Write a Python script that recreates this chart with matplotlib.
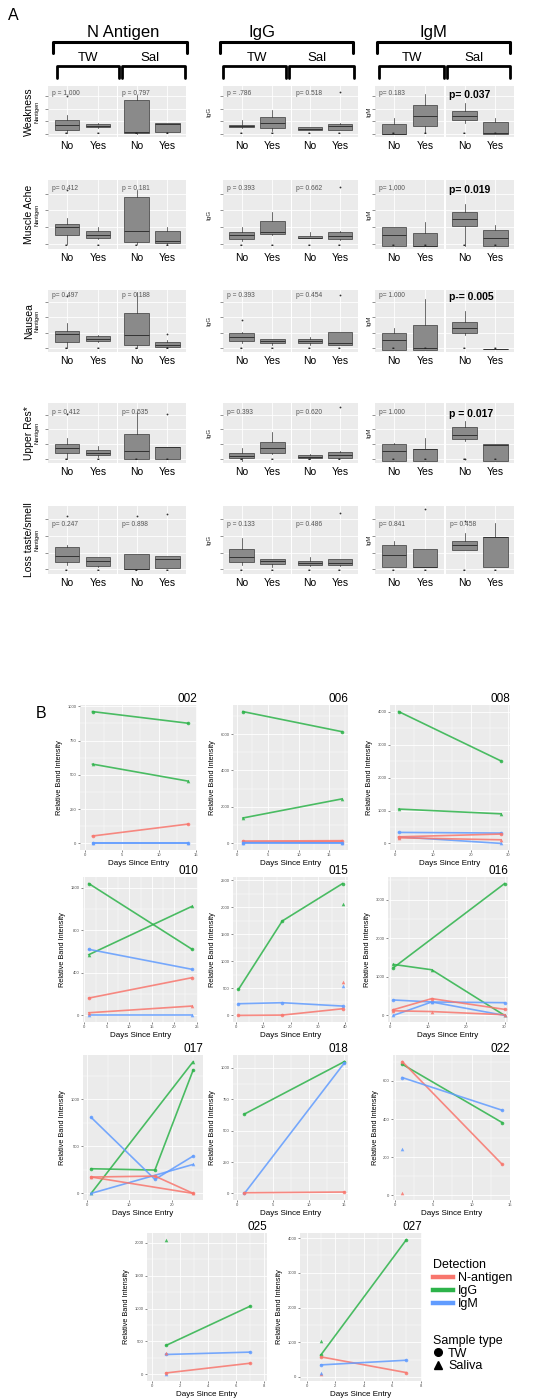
import matplotlib
matplotlib.use("Agg")
import matplotlib.pyplot as plt
from matplotlib.lines import Line2D
from matplotlib.ticker import AutoMinorLocator

plt.rcParams['font.family'] = ['Liberation Sans', 'DejaVu Sans']

W, H = 545, 1399

# ── Panel A data (box stats as fraction of panel height: lo, q1, med, q3, hi) ──
SYMPTOMS = ["Weakness", "Muscle Ache", "Nausea", "Upper Res*", "Loss taste/smell"]
GROUPS = ["No", "Yes"]

# order in each row: TW-No, TW-Yes, Sal-No, Sal-Yes
NANT_BOX = [
    [(0.07, 0.12, 0.23, 0.33, 0.43), (0.16, 0.18, 0.20, 0.24, 0.26), (0.05, 0.07, 0.08, 0.72, 0.82), (0.07, 0.08, 0.25, 0.26, 0.26)],
    [(0.05, 0.19, 0.30, 0.35, 0.44), (0.13, 0.15, 0.19, 0.25, 0.30), (0.05, 0.09, 0.25, 0.75, 0.85), (0.06, 0.075, 0.10, 0.24, 0.30)],
    [(0.04, 0.15, 0.27, 0.32, 0.45), (0.14, 0.16, 0.20, 0.24, 0.26), (0.04, 0.09, 0.26, 0.62, 0.97), (0.05, 0.065, 0.09, 0.15, 0.17)],
    [(0.05, 0.15, 0.24, 0.31, 0.40), (0.09, 0.11, 0.15, 0.20, 0.27), (0.04, 0.04, 0.19, 0.48, 0.86), (0.04, 0.04, 0.25, 0.25, 0.25)],
    [(0.12, 0.16, 0.25, 0.39, 0.41), (0.08, 0.10, 0.17, 0.24, 0.24), (0.05, 0.05, 0.06, 0.28, 0.28), (0.07, 0.07, 0.20, 0.25, 0.25)],
]
NANT_FLY = [
    [[0.80], [], [], []],
    [[0.85], [], [], []],
    [[0.90], [], [], [0.27]],
    [[0.82], [], [], [0.82]],
    [[0.85], [], [0.85], [0.88]],
]
IGG_BOX = [
    [(0.16, 0.18, 0.20, 0.23, 0.32), (0.10, 0.16, 0.26, 0.38, 0.53), (0.13, 0.13, 0.15, 0.18, 0.18), (0.13, 0.13, 0.20, 0.25, 0.26)],
    [(0.10, 0.13, 0.18, 0.23, 0.30), (0.18, 0.20, 0.23, 0.39, 0.53), (0.14, 0.14, 0.15, 0.17, 0.23), (0.11, 0.13, 0.17, 0.23, 0.24)],
    [(0.12, 0.16, 0.23, 0.29, 0.31), (0.10, 0.12, 0.16, 0.19, 0.20), (0.10, 0.12, 0.16, 0.19, 0.23), (0.10, 0.10, 0.12, 0.31, 0.31)],
    [(0.02, 0.06, 0.10, 0.15, 0.24), (0.13, 0.15, 0.24, 0.33, 0.50), (0.05, 0.06, 0.09, 0.12, 0.14), (0.06, 0.07, 0.12, 0.16, 0.18)],
    [(0.12, 0.16, 0.24, 0.35, 0.52), (0.08, 0.13, 0.17, 0.21, 0.21), (0.10, 0.11, 0.15, 0.17, 0.24), (0.10, 0.11, 0.14, 0.20, 0.20)],
]
IGG_FLY = [
    [[], [], [], [0.89]],
    [[], [], [], [0.90]],
    [[0.51], [], [], [0.92]],
    [[], [], [], [0.94]],
    [[], [], [], [0.89]],
]
IGM_BOX = [
    [(0.05, 0.05, 0.05, 0.25, 0.36), (0.07, 0.21, 0.41, 0.62, 0.84), (0.26, 0.32, 0.41, 0.50, 0.66), (0.05, 0.05, 0.07, 0.28, 0.36)],
    [(0.03, 0.03, 0.19, 0.30, 0.31), (0.03, 0.03, 0.03, 0.21, 0.38), (0.03, 0.32, 0.43, 0.53, 0.64), (0.03, 0.03, 0.15, 0.26, 0.33)],
    [(0.02, 0.02, 0.18, 0.29, 0.37), (0.02, 0.02, 0.04, 0.43, 0.86), (0.26, 0.30, 0.37, 0.48, 0.65), (0.03, 0.03, 0.03, 0.03, 0.03)],
    [(0.02, 0.02, 0.19, 0.31, 0.32), (0.02, 0.02, 0.22, 0.22, 0.40), (0.35, 0.38, 0.46, 0.60, 0.70), (0.02, 0.02, 0.29, 0.30, 0.31)],
    [(0.08, 0.08, 0.27, 0.41, 0.47), (0.08, 0.08, 0.08, 0.36, 0.36), (0.34, 0.34, 0.42, 0.47, 0.60), (0.08, 0.08, 0.54, 0.54, 0.75)],
]
IGM_FLY = [
    [[], [], [], []],
    [[], [], [], []],
    [[], [], [], []],
    [[], [], [0.04], []],
    [[], [0.96], [0.77], []],
]

P_NANT = [("p = 1,000", "p = 0.797"), ("p= 0.412", "p = 0.181"), ("p= 0.497", "p = 0.188"),
          ("p = 0.412", "p= 0.535"), ("p= 0.247", "p= 0.898")]
P_IGG = [("p = .786", "p= 0.518"), ("p = 0.393", "p= 0.662"), ("p = 0.393", "p= 0.454"),
         ("p= 0.393", "p= 0.620"), ("p = 0.133", "p= 0.486")]
P_IGM = [("p= 0.183", "p= 0.037"), ("p= 1,000", "p= 0.019"), ("p= 1.000", "p-= 0.005"),
         ("p= 1.000", "p = 0.017"), ("p= 0.841", "p= 0.458")]
P_BOLD = [(False, True), (False, True), (False, True), (False, True), (False, False)]

# ── Panel B data: (detection, sample type, days, relative band intensity) ──
DETECTIONS = ["N-antigen", "IgG", "IgM"]
SAMPLES = ["TW", "Saliva"]

LINES_002 = [("IgG", "TW", [1, 14], [961, 876]), ("IgG", "Saliva", [1, 14], [578, 454]),
             ("N-antigen", "TW", [1, 14], [54, 141]), ("IgM", "TW", [1, 14], [2, 2]),
             ("IgM", "Saliva", [1, 14], [0, 0])]
LINES_006 = [("IgG", "TW", [1, 17], [7230, 6130]), ("IgG", "Saliva", [1, 17], [1395, 2440]),
             ("N-antigen", "TW", [1, 17], [130, 150]), ("N-antigen", "Saliva", [1, 17], [60, 100]),
             ("IgM", "TW", [1, 17], [0, 0]), ("IgM", "Saliva", [1, 17], [40, 30])]
LINES_008 = [("IgG", "TW", [1, 28], [4010, 2510]), ("IgG", "Saliva", [1, 28], [1045, 900]),
             ("IgM", "TW", [1, 28], [335, 315]), ("IgM", "Saliva", [1, 28], [200, 0]),
             ("N-antigen", "TW", [1, 28], [200, 285]), ("N-antigen", "Saliva", [1, 28], [170, 110])]
LINES_010 = [("IgG", "TW", [1, 24], [1239, 621]), ("IgG", "Saliva", [1, 24], [571, 1026]),
             ("IgM", "TW", [1, 24], [621, 433]), ("IgM", "Saliva", [1, 24], [0, 0]),
             ("N-antigen", "TW", [1, 24], [163, 355]), ("N-antigen", "Saliva", [1, 24], [25, 88])]
LINES_015 = [("IgG", "TW", [1, 17, 39], [481, 1747, 2438]), ("IgG", "Saliva", [39], [2068]),
             ("IgM", "TW", [1, 17, 39], [216, 235, 173]), ("IgM", "Saliva", [39], [543]),
             ("N-antigen", "TW", [1, 17, 39], [0, 6, 123]), ("N-antigen", "Saliva", [39], [617])]
LINES_016 = [("IgG", "TW", [1, 30], [1235, 3417]), ("IgG", "Saliva", [1, 11, 30], [1322, 1183, 0]),
             ("IgM", "TW", [1, 11, 30], [400, 348, 330]), ("IgM", "Saliva", [1, 11, 30], [0, 348, 0]),
             ("N-antigen", "TW", [1, 11, 30], [148, 435, 157]), ("N-antigen", "Saliva", [1, 11, 30], [120, 100, 17])]
LINES_017 = [("IgG", "TW", [1, 16, 25], [262, 248, 1312]), ("IgG", "Saliva", [1, 25], [0, 1400]),
             ("IgM", "TW", [1, 16, 25], [808, 149, 397]), ("IgM", "Saliva", [1, 25], [0, 308]),
             ("N-antigen", "TW", [1, 16, 25], [174, 184, 0]), ("N-antigen", "Saliva", [1, 25], [174, 0])]
LINES_018 = [("IgG", "TW", [1, 15], [632, 1050]), ("IgM", "TW", [1, 15], [0, 1040]),
             ("N-antigen", "TW", [1, 15], [5, 11])]
LINES_022 = [("IgG", "TW", [1, 14], [688, 381]), ("N-antigen", "TW", [1, 14], [702, 161]),
             ("IgM", "TW", [1, 14], [618, 446]), ("IgM", "Saliva", [1], [244]),
             ("N-antigen", "Saliva", [1], [9])]
LINES_025 = [("IgG", "TW", [1, 7], [439, 1036]), ("IgG", "Saliva", [1], [2046]),
             ("IgM", "TW", [1, 7], [301, 337]), ("IgM", "Saliva", [1], [0]),
             ("N-antigen", "TW", [1, 7], [20, 168]), ("N-antigen", "Saliva", [1], [316])]
LINES_027 = [("IgG", "TW", [1, 7], [636, 3952]), ("IgG", "Saliva", [1], [1022]),
             ("N-antigen", "TW", [1, 7], [578, 125]), ("N-antigen", "Saliva", [1], [77]),
             ("IgM", "TW", [1, 7], [347, 482]), ("IgM", "Saliva", [1], [125])]

B_IDS = ["002", "006", "008", "010", "015", "016", "017", "018", "022", "025", "027"]
B_LINES = [LINES_002, LINES_006, LINES_008, LINES_010, LINES_015, LINES_016,
           LINES_017, LINES_018, LINES_022, LINES_025, LINES_027]
B_XTICKS = [[0, 5, 10, 15], [0, 5, 10, 15], [0, 10, 20, 30], [0, 5, 10, 15, 20, 25],
            [0, 10, 20, 30, 40], [0, 10, 20, 30], [0, 10, 20], [0, 5, 10, 15],
            [0, 5, 10, 15], [0, 2, 4, 6, 8], [0, 2, 4, 6, 8]]
B_YTICKS = [[0, 250, 500, 750, 1000], [0, 2000, 4000, 6000], [0, 1000, 2000, 3000, 4000],
            [0, 400, 800, 1200], [0, 500, 1000, 1500, 2000, 2500], [0, 1000, 2000, 3000],
            [0, 500, 1000], [0, 250, 500, 750, 1000], [0, 200, 400, 600],
            [0, 500, 1000, 1500, 2000], [0, 1000, 2000, 3000, 4000]]

# ── layout (pixels) ──
B_XLIM = [(-0.7, 15.2), (-0.6, 18), (-1.3, 30.4), (-0.3, 25.3), (-1, 41), (-0.4, 30.9),
          (-0.9, 27.3), (-0.6, 15.5), (-0.2, 15), (-0.36, 8.2), (-0.47, 8.1)]
B_BOX = [(80, 705, 197, 850), (233, 705, 348, 850), (390, 705, 510, 850),
         (83, 877, 198, 1022), (233, 877, 348, 1022), (388, 877, 508, 1022),
         (83, 1055, 203, 1200), (233, 1055, 348, 1200), (393, 1055, 510, 1200),
         (147, 1233, 267, 1381), (300, 1233, 422, 1381)]
A_ROWS = [(86, 137), (180, 249), (290, 352), (403, 463), (506, 574)]
A_COLS = [((48, 117), (118, 186)), ((223, 291), (292, 358)), ((375, 444), (446, 514))]
P_Y = [0.93, 0.93, 0.97, 0.9, 0.78]

COL = {"N-antigen": "#F8766D", "IgG": "#2DB34A", "IgM": "#619CFF"}
MK = {"TW": "o", "Saliva": "^"}


def px_box(x0, y0, x1, y1):
    return [x0 / W, 1 - y1 / H, (x1 - x0) / W, (y1 - y0) / H]


fig = plt.figure(figsize=(W / 100, H / 100), dpi=100)
fig.patch.set_facecolor("white")

ov = fig.add_axes([0, 0, 1, 1])
ov.set_xlim(0, W)
ov.set_ylim(H, 0)
ov.axis("off")

ov.text(8, 16, "A", fontsize=11.5, ha="left", va="center")
ov.text(41, 713, "B", fontsize=11.5, ha="center", va="center")

# headers and brackets
for title, tx, (bx0, bx1) in [("N Antigen", 123, (53, 187)), ("IgG", 262, (220, 353)), ("IgM", 433, (377, 510))]:
    ov.text(tx, 33, title, fontsize=12, ha="center", va="center")
    ov.plot([bx0, bx0, bx1, bx1], [53, 42, 42, 53], color="black", lw=2.2,
            solid_joinstyle="round", solid_capstyle="round")
for lab, lx, (bx0, bx1) in [("TW", 88, (57, 119)), ("Sal", 150, (122, 185)),
                            ("TW", 257, (223, 286)), ("Sal", 317, (289, 354)),
                            ("TW", 412, (379, 444)), ("Sal", 474, (447, 510))]:
    ov.text(lx, 58, lab, fontsize=9.5, ha="center", va="center")
    ov.plot([bx0, bx0, bx1, bx1], [78, 66, 66, 78], color="black", lw=2.0,
            solid_joinstyle="round", solid_capstyle="round")

BOXES = [NANT_BOX, IGG_BOX, IGM_BOX]
FLIES = [NANT_FLY, IGG_FLY, IGM_FLY]
PVALS = [P_NANT, P_IGG, P_IGM]

for r, (y0, y1) in enumerate(A_ROWS):
    yc = (y0 + y1) / 2
    ov.text(29, yc, SYMPTOMS[r], fontsize=7.5, rotation=90, ha="center", va="center")
    ov.text(37.5, yc, "Nantigen", fontsize=4, rotation=90, ha="center", va="center")
    ov.text(209, yc, "IgG", fontsize=4.5, rotation=90, ha="center", va="center", color="#222222")
    ov.text(369, yc, "IgM", fontsize=4.5, rotation=90, ha="center", va="center", color="#222222")
    for a in range(3):
        for f in range(2):
            x0, x1 = A_COLS[a][f]
            ax = fig.add_axes(px_box(x0, y0, x1, y1))
            ax.set_facecolor("#EBEBEB")
            stats = []
            for k in range(2):
                lo, q1, med, q3, hi = BOXES[a][r][2 * f + k]
                stats.append(dict(whislo=lo, q1=q1, med=med, q3=q3, whishi=hi,
                                  fliers=FLIES[a][r][2 * f + k]))
            ax.bxp(stats, positions=[1, 2], widths=0.78, patch_artist=True, showcaps=False,
                   boxprops=dict(facecolor="#8A8A8A", edgecolor="#3A3A3A", lw=0.5),
                   medianprops=dict(color="#333333", lw=0.7),
                   whiskerprops=dict(color="#333333", lw=0.5),
                   flierprops=dict(marker="o", ms=1.3, mfc="#333333", mec="none"))
            for k in range(2):
                ax.text(k + 1, 0.0, "••", fontsize=3.5, color="#222222", ha="center", va="bottom")
            ax.set_xlim(0.4, 2.6)
            ax.set_ylim(-0.02, 1.0)
            ax.set_xticks([1, 2])
            ax.set_xticklabels(GROUPS, fontsize=7.5)
            ax.set_yticks([0.05, 0.3, 0.55, 0.8])
            ax.set_yticklabels([])
            ax.tick_params(axis="x", length=0, pad=3)
            ax.tick_params(axis="y", length=2 if f == 0 else 0, color="#666666", width=0.5)
            ax.grid(color="white", lw=0.6)
            ax.set_axisbelow(True)
            for s in ax.spines.values():
                s.set_visible(False)
            txt = PVALS[a][r][f]
            bold = a == 2 and P_BOLD[r][f]
            if bold:
                ax.text(0.05, P_Y[r], txt, transform=ax.transAxes, fontsize=7.5,
                        fontweight="bold", va="top", ha="left", color="black")
            else:
                ax.text(0.06, P_Y[r], txt, transform=ax.transAxes, fontsize=4.8,
                        va="top", ha="left", color="#555555")

# ── Panel B ──
for i, pid in enumerate(B_IDS):
    ax = fig.add_axes(px_box(*B_BOX[i]))
    ax.set_facecolor("#EBEBEB")
    for det, samp, days, vals in B_LINES[i]:
        ax.plot(days, vals, color=COL[det], lw=1.2, alpha=0.85,
                marker=MK[samp], ms=2.6, mew=0)
    ax.set_xlim(*B_XLIM[i])
    ax.margins(y=0.05)
    ax.set_xticks(B_XTICKS[i])
    ax.set_yticks(B_YTICKS[i])
    ax.xaxis.set_minor_locator(AutoMinorLocator(2))
    ax.yaxis.set_minor_locator(AutoMinorLocator(2))
    ax.grid(which="major", color="white", lw=0.6)
    ax.grid(which="minor", color="white", lw=0.3)
    ax.set_axisbelow(True)
    ax.tick_params(which="major", labelsize=3, length=1.5, width=0.4, pad=1,
                   color="#333333", labelcolor="#4D4D4D")
    ax.tick_params(which="minor", length=0)
    for s in ax.spines.values():
        s.set_visible(False)
    ax.set_title(pid, loc="right", fontsize=8.5, pad=2)
    ax.set_ylabel("Relative Band Intensity", fontsize=5.3, labelpad=3)
    ax.set_xlabel("Days Since Entry", fontsize=5.8, labelpad=1.5)

det_handles = [Line2D([], [], color=COL[d], lw=3.2) for d in DETECTIONS]
leg1 = fig.legend(det_handles, DETECTIONS, title="Detection", loc="upper left",
                  bbox_to_anchor=(433 / W, 1 - 1259 / H), frameon=False, fontsize=9,
                  title_fontsize=9, handlelength=1.6, handletextpad=0.4,
                  labelspacing=0.08, borderpad=0, borderaxespad=0, alignment="left")
samp_handles = [Line2D([], [], color="black", marker=MK[s], ls="none", ms=5.5) for s in SAMPLES]
leg2 = fig.legend(samp_handles, SAMPLES, title="Sample type", loc="upper left",
                  bbox_to_anchor=(433 / W, 1 - 1335 / H), frameon=False, fontsize=9,
                  title_fontsize=9, handlelength=0.8, handletextpad=0.4,
                  labelspacing=0.05, borderpad=0, borderaxespad=0, alignment="left")

fig.savefig("out.png", dpi=100)
